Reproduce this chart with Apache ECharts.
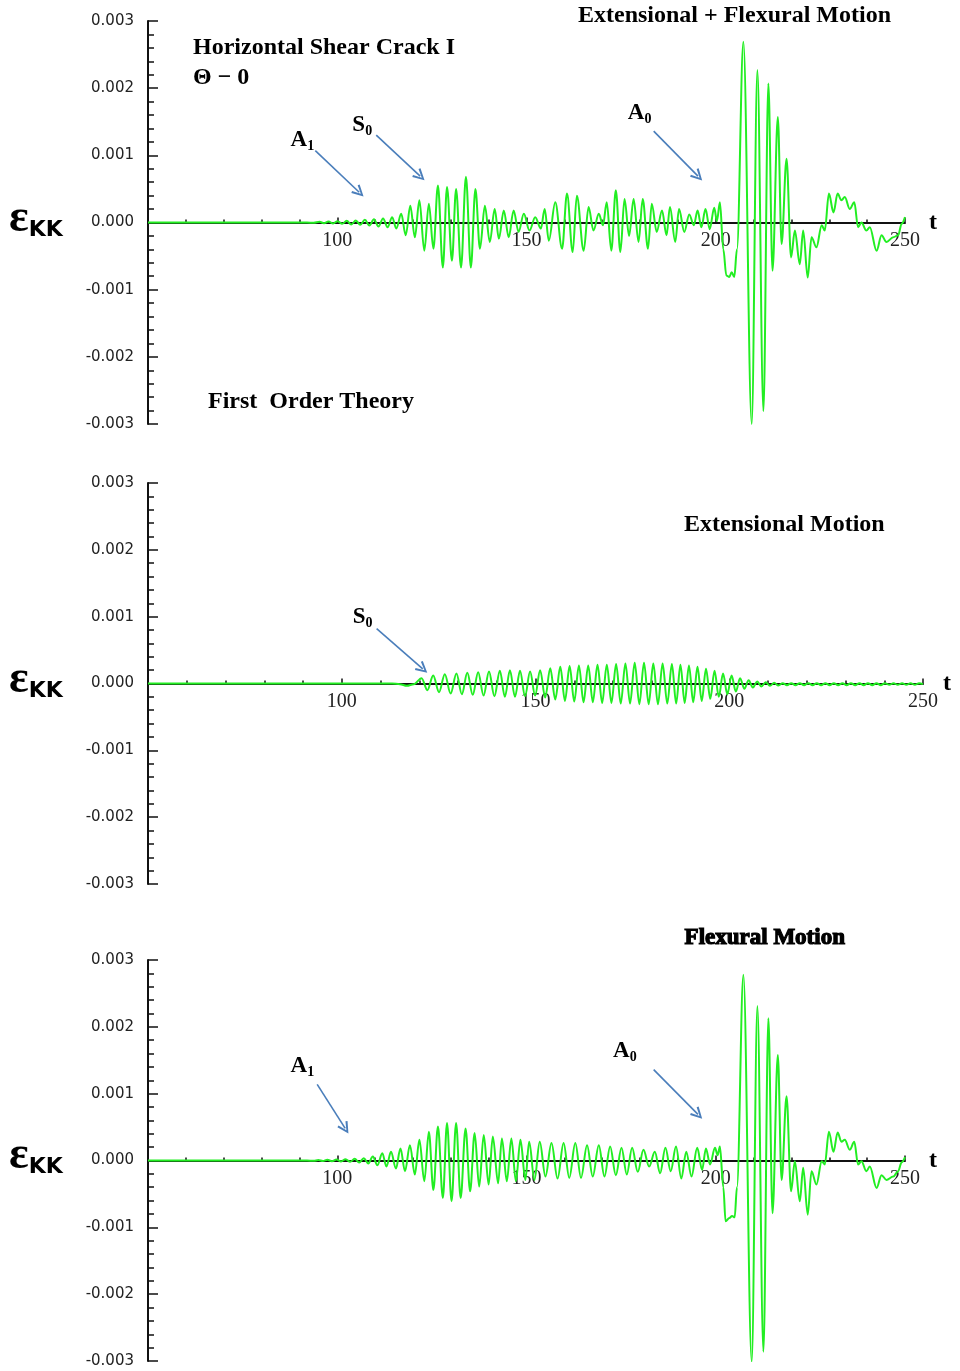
<!DOCTYPE html>
<html>
<head>
<meta charset="utf-8">
<title>Strain response</title>
<script src="https://cdn.jsdelivr.net/npm/echarts/dist/echarts.min.js"></script>
<style>
html, body { margin: 0; padding: 0; background: #fff; }
#main { width: 960px; height: 1371px; }
</style>
</head>
<body>
<div id="main"></div>
<script>
// time axis and strain axis ticks (strain in units of 1e-3 below)
var tTicks = [50, 100, 150, 200, 250];
var strainTicks = [-0.003, -0.002, -0.001, 0.000, 0.001, 0.002, 0.003];

// Extensional + Flexural motion, [t, strain x1e-3]
var combined = [
  [50,0],[92,0],[93.8,-0.005],[95.3,0.01],[96.5,-0.01],[97.7,0.015],[98.9,-0.015],[100.1,0.02],[101.3,-0.02],
  [102.5,0.025],[103.7,-0.03],[104.9,0.03],[106.1,-0.035],[107.3,0.04],[108.5,-0.045],[109.7,0.05],[110.9,-0.06],
  [112.1,0.06],[113.3,-0.07],[114.5,0.08],[115.6,-0.09],[116.9,0.13],[118.1,-0.19],[119.3,0.25],[120.5,-0.22],
  [121.7,0.33],[123.0,-0.42],[124.2,0.28],[125.4,-0.39],[126.6,0.55],[127.9,-0.67],[129.0,0.53],[130.3,-0.57],
  [131.4,0.50],[132.7,-0.67],[134.0,0.68],[135.3,-0.67],[136.5,0.50],[137.7,-0.39],[139.0,0.25],[140.3,-0.29],
  [141.6,0.20],[142.7,-0.24],[144.0,0.18],[145.3,-0.22],[146.6,0.18],[147.9,-0.14],[149.3,0.13],[150.8,-0.12],
  [152.3,0.08],[153.8,-0.09],[154.8,0.20],[155.9,-0.27],[157.6,0.30],[159.4,-0.39],[160.7,0.43],[162.2,-0.44],
  [163.3,0.40],[165.1,-0.42],[166.4,0.23],[167.7,-0.12],[169.1,0.13],[170.2,-0.04],[171.2,0.30],[172.4,-0.42],
  [173.6,0.48],[174.8,-0.44],[175.9,0.35],[177.1,-0.20],[178.3,0.35],[179.6,-0.29],[180.7,0.35],[182.1,-0.39],
  [183.1,0.28],[184.4,-0.14],[185.8,0.18],[187.0,-0.19],[187.9,0.23],[189.3,-0.29],[190.3,0.20],[191.7,-0.14],
  [193.0,0.12],[194.2,-0.04],[195.2,0.18],[196.2,-0.07],[197.3,0.20],[198.4,-0.10],[199.6,0.22],[200.3,0.02],
  [201.1,0.30],[202.0,-0.40],[202.8,-0.79],[203.6,-0.81],[204.2,-0.74],[204.9,-0.81],[205.6,-0.40],[207.3,2.69],
  [209.5,-3.00],[211.0,2.27],[212.6,-2.81],[213.9,2.07],[215.0,-0.72],[216.4,1.57],[217.4,-0.32],[218.7,0.95],
  [219.9,-0.52],[220.9,-0.12],[222.2,-0.62],[223.1,-0.12],[224.3,-0.82],[225.3,-0.22],[226.6,-0.37],[228.0,-0.04],
  [228.8,-0.12],[229.9,0.43],[231.1,0.15],[232.2,0.43],[233.2,0.33],[234.1,0.38],[235.4,0.20],[236.6,0.30],
  [237.6,-0.07],[238.5,0.00],[239.8,-0.12],[240.7,-0.07],[242.5,-0.42],[243.8,-0.19],[245.1,-0.29],[246.9,-0.22],
  [248.2,-0.19],[249.1,-0.02],[250.0,0.08]
];

// Extensional motion only
var extensional = [
  [50,0],[110,0],[113,0],[115,-0.01],[116.8,-0.035],[118.6,-0.01],[120.6,0.08],[122.1,-0.10],[123.6,0.12],
  [125.1,-0.13],[126.6,0.14],[128.1,-0.15],[129.6,0.15],[131.0,-0.16],[132.4,0.16],[133.8,-0.17],[135.2,0.17],
  [136.6,-0.18],[138.0,0.18],[139.4,-0.19],[140.8,0.19],[142.1,-0.20],[143.4,0.20],[144.7,-0.20],[146.0,0.19],
  [147.3,-0.19],[148.6,0.18],[149.9,-0.18],[151.2,0.20],[152.5,-0.21],[153.8,0.23],[155.1,-0.24],[156.4,0.25],
  [157.6,-0.26],[158.8,0.26],[160.0,-0.27],[161.2,0.27],[162.4,-0.28],[163.6,0.27],[164.8,-0.28],[166.0,0.28],
  [167.2,-0.29],[168.4,0.28],[169.6,-0.29],[170.8,0.29],[172.0,-0.30],[173.2,0.30],[174.4,-0.30],[175.6,0.31],
  [176.8,-0.31],[178.0,0.31],[179.2,-0.31],[180.4,0.30],[181.6,-0.31],[182.8,0.30],[184.0,-0.30],[185.2,0.29],
  [186.3,-0.30],[187.4,0.28],[188.5,-0.29],[189.6,0.27],[190.7,-0.28],[191.8,0.25],[192.9,-0.26],[194.0,0.22],
  [195.1,-0.23],[196.2,0.19],[197.3,-0.20],[198.4,0.15],[199.5,-0.16],[200.6,0.12],[201.7,-0.12],[202.8,0.08],
  [203.9,-0.08],[205.0,0.05],[206.1,-0.06],[207.2,0.03],[208.3,-0.045],[209.4,0.02],[210.5,-0.035],[211.6,0.01],
  [212.7,-0.03],[213.8,0.005],[214.9,-0.025],[216.0,0.005],[217.1,-0.025],[218.2,0.005],[219.3,-0.025],
  [220.4,0.005],[221.5,-0.025],[222.6,0.005],[223.7,-0.025],[224.8,0.005],[225.9,-0.025],[227.0,0.005],
  [228.1,-0.025],[229.2,0.005],[230.3,-0.025],[231.4,0.005],[232.5,-0.025],[233.6,0.005],[234.7,-0.025],
  [235.8,0.005],[236.9,-0.025],[238.0,0.005],[239.1,-0.025],[240.2,0.005],[241.3,-0.02],[242.4,0.005],
  [243.5,-0.02],[244.6,0.005],[245.7,-0.02],[246.8,0.005],[247.9,-0.02],[249.0,0.005],[250.0,-0.01]
];

// Flexural motion only
var flexural = [
  [50,0],[92,0],[93.8,-0.005],[95.0,0.006],[96.2,-0.008],[97.4,0.01],[98.6,-0.01],[99.8,0.015],[101.0,-0.015],
  [102.2,0.02],[103.4,-0.02],[104.6,0.025],[105.8,-0.03],[107.0,0.035],[108.2,-0.045],[109.4,0.06],[110.6,-0.07],
  [111.9,0.11],[113.0,-0.09],[114.2,0.13],[115.5,-0.12],[116.7,0.18],[117.9,-0.16],[119.2,0.23],[120.5,-0.21],
  [121.7,0.31],[123.0,-0.31],[124.2,0.43],[125.4,-0.44],[126.6,0.51],[127.9,-0.56],[129.0,0.56],[130.2,-0.61],
  [131.4,0.56],[132.6,-0.56],[133.9,0.48],[135.1,-0.46],[136.3,0.41],[137.5,-0.39],[138.7,0.38],[140.0,-0.36],
  [141.1,0.36],[142.5,-0.34],[143.5,0.33],[144.8,-0.31],[146.0,0.33],[147.2,-0.31],[148.4,0.31],[149.7,-0.29],
  [150.7,0.28],[152.1,-0.29],[153.5,0.28],[155.0,-0.24],[156.6,0.26],[158.2,-0.27],[159.8,0.26],[161.3,-0.26],
  [162.9,0.26],[164.4,-0.26],[166.0,0.23],[167.5,-0.24],[169.1,0.23],[170.6,-0.24],[172.1,0.21],[173.6,-0.22],
  [175.1,0.19],[176.5,-0.21],[177.9,0.19],[179.4,-0.17],[180.9,0.16],[182.4,-0.09],[183.9,0.13],[185.3,-0.19],
  [186.7,0.19],[188.1,-0.16],[189.5,0.21],[190.9,-0.27],[192.2,0.13],[193.6,-0.24],[195.1,0.19],[196.4,-0.14],
  [197.4,0.18],[198.5,-0.06],[199.8,0.19],[200.5,0.08],[201.1,0.21],[202.0,-0.40],[202.6,-0.91],[203.6,-0.86],
  [204.3,-0.83],[205.0,-0.85],[205.6,-0.40],[207.3,2.78],[209.5,-3.01],[211.0,2.31],[212.6,-2.86],[213.9,2.13],
  [215.0,-0.79],[216.4,1.58],[217.4,-0.29],[218.7,0.96],[219.9,-0.46],[220.9,-0.01],[222.2,-0.61],[223.1,-0.11],
  [224.3,-0.81],[225.3,-0.16],[226.6,-0.36],[228.0,-0.01],[228.8,-0.06],[229.9,0.43],[231.1,0.13],[232.2,0.42],
  [233.2,0.28],[234.1,0.31],[235.4,0.16],[236.6,0.28],[237.6,-0.06],[238.5,-0.01],[239.8,-0.16],[240.7,-0.09],
  [242.5,-0.41],[243.8,-0.22],[245.1,-0.29],[246.9,-0.24],[248.2,-0.16],[249.1,-0.03],[250.0,0.05]
];

// wave-mode annotations: label, label point, arrow start, arrow end (t, strain x1e-3)
var notes1 = [
  ['A1', 90.8, 1.22, 94.2, 1.07, 105.8, 0.45],
  ['S0', 106.6, 1.45, 110.3, 1.30, 121.9, 0.69],
  ['A0', 179.9, 1.63, 183.6, 1.36, 195.3, 0.69]
];
var notes2 = [
  ['S0', 105.4, 0.99, 109.0, 0.82, 120.9, 0.22]
];
var notes3 = [
  ['A1', 90.8, 1.41, 94.7, 1.14, 102.1, 0.48],
  ['A0', 176.0, 1.63, 183.6, 1.36, 195.3, 0.69]
];

var panels = [
  { data: combined,    notes: notes1, top: 21,  height: 403, width: 757, tGap: 24 },
  { data: extensional, notes: notes2, top: 483, height: 401, width: 775, tGap: 20 },
  { data: flexural,    notes: notes3, top: 960, height: 401, width: 757, tGap: 24 }
];

var chevron = 'path://M0,10 L5,0 L10,10 L8.4,10.8 L5,3.4 L1.6,10.8 Z';
var serif = '"Liberation Serif", "Times New Roman", serif';

var dom = document.getElementById('main');
var myChart = echarts.init(dom, null, { renderer: 'canvas' });

var grids = [], xAxes = [], yAxes = [], series = [];
panels.forEach(function (p, i) {
  grids.push({ left: 148, top: p.top, width: p.width, height: p.height });
  // the strain range is symmetric, so the time axis sits half a grid up from the bottom
  xAxes.push({
    gridIndex: i, type: 'value', position: 'bottom', offset: -p.height / 2,
    min: tTicks[0], max: tTicks[tTicks.length - 1], interval: tTicks[1] - tTicks[0],
    axisLine: { onZero: false, lineStyle: { color: '#111', width: 2 } },
    axisTick: { show: true, inside: true, length: 5, lineStyle: { color: '#111', width: 1.5 } },
    minorTick: { show: true, splitNumber: 5, length: 3, lineStyle: { color: '#111', width: 1.5 } },
    splitLine: { show: false },
    axisLabel: { showMinLabel: false, margin: 8, fontFamily: serif, fontSize: 20, color: '#222' },
    name: 't', nameLocation: 'end', nameGap: p.tGap,
    nameTextStyle: { fontFamily: serif, fontWeight: 'bold', fontSize: 24, color: '#000' }
  });
  yAxes.push({
    gridIndex: i, type: 'value',
    min: strainTicks[0], max: strainTicks[strainTicks.length - 1], interval: 0.001,
    axisLine: { show: true, onZero: false, lineStyle: { color: '#111', width: 2 } },
    axisTick: { show: true, inside: true, length: 10, lineStyle: { color: '#111', width: 1.5 } },
    minorTick: { show: true, splitNumber: 5, length: 6, lineStyle: { color: '#111', width: 1.5 } },
    splitLine: { show: false },
    axisLabel: {
      margin: 14, fontFamily: '"DejaVu Sans", sans-serif', fontSize: 15, color: '#222',
      formatter: function (v) { return (Math.abs(v) < 1e-9 ? 0 : v).toFixed(3); }
    }
  });
  series.push({
    type: 'line', xAxisIndex: i, yAxisIndex: i,
    data: p.data.map(function (d) { return [d[0], d[1] / 1000]; }),
    smooth: 0.35, smoothMonotone: 'x', showSymbol: false, animation: false,
    lineStyle: { color: '#22ee22', width: 2 },
    markLine: {
      silent: true, animation: false,
      symbol: ['none', chevron], symbolSize: [12, 12],
      lineStyle: { color: '#4a7ebb', width: 1.6, type: 'solid' },
      label: { show: false },
      data: p.notes.map(function (n) {
        return [{ coord: [n[3], n[4] / 1000] }, { coord: [n[5], n[6] / 1000] }];
      })
    },
    markPoint: {
      silent: true, animation: false, symbol: 'circle', symbolSize: 0,
      label: {
        show: true, position: 'inside',
        formatter: function (q) { return '{a|' + q.name.charAt(0) + '}{s|' + q.name.charAt(1) + '}'; },
        rich: {
          a: { fontFamily: serif, fontWeight: 'bold', fontSize: 23, color: '#000' },
          s: { fontFamily: serif, fontWeight: 'bold', fontSize: 14, color: '#000', padding: [12, 0, 0, 0] }
        }
      },
      data: p.notes.map(function (n) { return { name: n[0], coord: [n[1], n[2] / 1000] }; })
    }
  });
});

var titleFont = 'bold 24px ' + serif;
var graphics = [
  { type: 'text', left: 578, top: 4, style: { text: 'Extensional + Flexural Motion', font: titleFont, fill: '#000' } },
  { type: 'text', left: 193, top: 36, style: { text: 'Horizontal Shear Crack I', font: titleFont, fill: '#000' } },
  { type: 'text', left: 193, top: 66, style: { text: '\u0398 \u2212 0', font: titleFont, fill: '#000' } },
  { type: 'text', left: 208, top: 390, style: { text: 'First  Order Theory', font: titleFont, fill: '#000' } },
  { type: 'text', left: 684, top: 513, style: { text: 'Extensional Motion', font: titleFont, fill: '#000' } },
  { type: 'text', left: 684, top: 926, style: { text: 'Flexural Motion', font: 'bold 23px ' + serif, fill: '#000', stroke: '#000', lineWidth: 1.2 } }
];
[222, 683, 1159].forEach(function (y0) {
  graphics.push({
    type: 'text', left: 9, top: y0 - 26,
    style: {
      text: '{e|\u03b5}{k|KK}',
      rich: {
        e: { font: 'bold 46px ' + serif, fill: '#000' },
        k: { font: 'bold 22px "DejaVu Sans", sans-serif', fill: '#000', padding: [22, 0, 0, 0] }
      }
    }
  });
});

option = {
  backgroundColor: '#fff',
  animation: false,
  grid: grids,
  xAxis: xAxes,
  yAxis: yAxes,
  series: series,
  graphic: graphics
};
if (option && typeof option === 'object') {
  myChart.setOption(option, true);
}
</script>
</body>
</html>
